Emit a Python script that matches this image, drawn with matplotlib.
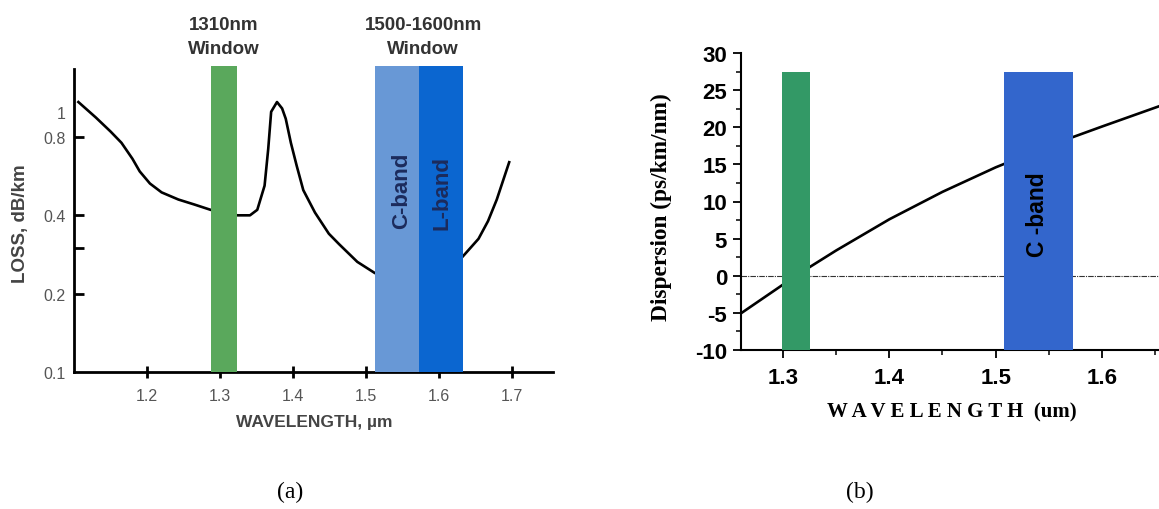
import numpy as np
import matplotlib
matplotlib.use("Agg")
import matplotlib.pyplot as plt
from matplotlib.ticker import NullLocator, MultipleLocator

plt.rcParams['axes.unicode_minus'] = False

# ---- (a) fibre loss vs wavelength ----
loss_wl = [1.106, 1.13, 1.15, 1.165, 1.18, 1.19, 1.204, 1.22, 1.243, 1.265, 1.287,
           1.324, 1.341, 1.351, 1.361, 1.366, 1.370, 1.378, 1.385, 1.390, 1.397,
           1.405, 1.414, 1.430, 1.449, 1.463, 1.488, 1.512, 1.550, 1.600, 1.632,
           1.643, 1.654, 1.667, 1.679, 1.696]
loss_val = [1.09, 0.95, 0.84, 0.76, 0.66, 0.59, 0.53, 0.49, 0.46, 0.44, 0.42,
            0.40, 0.40, 0.42, 0.52, 0.72, 1.0, 1.09, 1.03, 0.94, 0.76,
            0.62, 0.50, 0.41, 0.34, 0.31, 0.265, 0.24, 0.225, 0.24, 0.277,
            0.30, 0.325, 0.38, 0.46, 0.64]
a_green = (1.288, 1.323)
a_cband = (1.512, 1.573)
a_lband = (1.573, 1.633)
a_xticks = [1.2, 1.3, 1.4, 1.5, 1.6, 1.7]
a_yticks = [0.1, 0.2, 0.3, 0.4, 0.8, 1.0]
a_ylabels = ['0.1', '0.2', '', '0.4', '0.8', '1']

# ---- (b) dispersion vs wavelength ----
disp_wl = [1.2606, 1.30, 1.3255, 1.35, 1.40, 1.45, 1.50, 1.55, 1.60, 1.655]
disp_val = [-5.06, -1.2, 1.2, 3.4, 7.6, 11.3, 14.6, 17.5, 20.1, 22.9]
b_green = (1.299, 1.325)
b_cband = (1.5075, 1.5723)
b_bar_top = 27.5
b_xticks = [1.3, 1.4, 1.5, 1.6]
b_yticks = [-10, -5, 0, 5, 10, 15, 20, 25, 30]

W, H = 1159, 510
fig = plt.figure(figsize=(W / 100, H / 100), dpi=100)

def fx(px):
    return px / W

def fy(py):
    return 1 - py / H

sans = 'Liberation Sans'
grey = '#555555'

# panel (a)
ax1 = fig.add_axes([fx(74), fy(373), fx(553) - fx(74), fy(70) - fy(373)])
ax1.plot(loss_wl, loss_val, color='black', lw=1.9, zorder=2)
ax1.axvspan(*a_green, ymin=0, ymax=1.01, color='#5aa85c', lw=0, zorder=3, clip_on=False)
ax1.axvspan(*a_cband, ymin=0, ymax=1.01, color='#6898d6', lw=0, zorder=3, clip_on=False)
ax1.axvspan(*a_lband, ymin=0, ymax=1.01, color='#0b66d0', lw=0, zorder=3, clip_on=False)
ax1.set_yscale('log')
ax1.set_xlim(1.1, 1.756)
ax1.set_ylim(0.1, 1.46)
ax1.yaxis.set_minor_locator(NullLocator())
ax1.set_yticks(a_yticks)
ax1.set_yticklabels(a_ylabels)
ax1.set_xticks(a_xticks)
ax1.set_xticklabels([str(v) for v in a_xticks])
for t in (ax1.yaxis.get_major_ticks()[0], ax1.yaxis.get_major_ticks()[-1]):
    t.tick1line.set_visible(False)
for s in ['top', 'right']:
    ax1.spines[s].set_visible(False)
for s in ['left', 'bottom']:
    ax1.spines[s].set_linewidth(2)
ax1.tick_params(axis='x', direction='inout', length=9, width=2, pad=7,
                labelsize=11.5, labelcolor=grey)
ax1.tick_params(axis='y', direction='in', length=7, width=2, pad=6,
                labelsize=11.5, labelcolor=grey)
for lab in ax1.get_xticklabels() + ax1.get_yticklabels():
    lab.set_family(sans)

fig.text(fx(402), fy(191), 'C-band', rotation=90, ha='center', va='center',
         fontsize=16, fontweight='bold', color='#1c2b5c', family=sans)
fig.text(fx(442), fy(193), 'L-band', rotation=90, ha='center', va='center',
         fontsize=16, fontweight='bold', color='#1c2b5c', family=sans)
fig.text(fx(224), fy(25), '1310nm', ha='center', va='center',
         fontsize=13.5, fontweight='bold', color='#333333', family=sans)
fig.text(fx(224), fy(49), 'Window', ha='center', va='center',
         fontsize=13.5, fontweight='bold', color='#333333', family=sans)
fig.text(fx(423), fy(25), '1500-1600nm', ha='center', va='center',
         fontsize=13.5, fontweight='bold', color='#333333', family=sans)
fig.text(fx(423), fy(49), 'Window', ha='center', va='center',
         fontsize=13.5, fontweight='bold', color='#333333', family=sans)
fig.text(fx(21), fy(224), 'LOSS, dB/km', rotation=90, ha='center', va='center',
         fontsize=13.5, fontweight='bold', color='#444444', family=sans)
fig.text(fx(314), fy(423), 'WAVELENGTH, \u00b5m', ha='center', va='center',
         fontsize=12.5, fontweight='bold', color='#444444', family=sans)

# panel (b)
ax2 = fig.add_axes([fx(741), fy(351), 1 - fx(741), fy(54) - fy(351)])
ax2.axhline(0, color='#333333', lw=0.8, ls=(0, (5, 1, 1, 1)), zorder=1)
ax2.plot(disp_wl, disp_val, color='black', lw=1.9, zorder=2)
ax2.fill_between(b_green, -10, b_bar_top, color='#339966', lw=0, zorder=3)
ax2.fill_between(b_cband, -10, b_bar_top, color='#3366cc', lw=0, zorder=3)
ax2.set_xlim(1.2606, 1.6535)
ax2.set_ylim(-10, 30)
ax2.set_xticks(b_xticks)
ax2.set_xticklabels([str(v) for v in b_xticks])
ax2.set_yticks(b_yticks)
ax2.set_yticklabels([str(v) for v in b_yticks])
ax2.xaxis.set_minor_locator(MultipleLocator(0.05))
ax2.yaxis.set_minor_locator(MultipleLocator(2.5))
for s in ['top', 'right']:
    ax2.spines[s].set_visible(False)
for s in ['left', 'bottom']:
    ax2.spines[s].set_linewidth(1.5)
ax2.tick_params(which='major', direction='out', length=6, width=1.3, pad=4, labelsize=16)
ax2.tick_params(axis='x', which='major', pad=6)
ax2.tick_params(which='minor', direction='out', length=3.5, width=1.1)
for lab in ax2.get_xticklabels() + ax2.get_yticklabels():
    lab.set_family(sans)
    lab.set_fontweight('bold')

fig.text(fx(1038), fy(215), 'C -band', rotation=90, ha='center', va='center',
         fontsize=16.5, fontweight='bold', color='black', family=sans)
fig.text(fx(661), fy(207), 'Dispersion (ps/km/nm)', rotation=90, ha='center', va='center',
         fontsize=16.8, fontweight='bold', family='Liberation Serif')
fig.text(fx(952), fy(412), 'W A V E L E N G T H  (um)', ha='center', va='center',
         fontsize=15, fontweight='bold', family='Liberation Serif')

# captions
fig.text(fx(290), fy(492), '(a)', ha='center', va='center', fontsize=17, family='Liberation Serif')
fig.text(fx(860), fy(492), '(b)', ha='center', va='center', fontsize=17, family='Liberation Serif')

fig.savefig('out.png', dpi=100)
